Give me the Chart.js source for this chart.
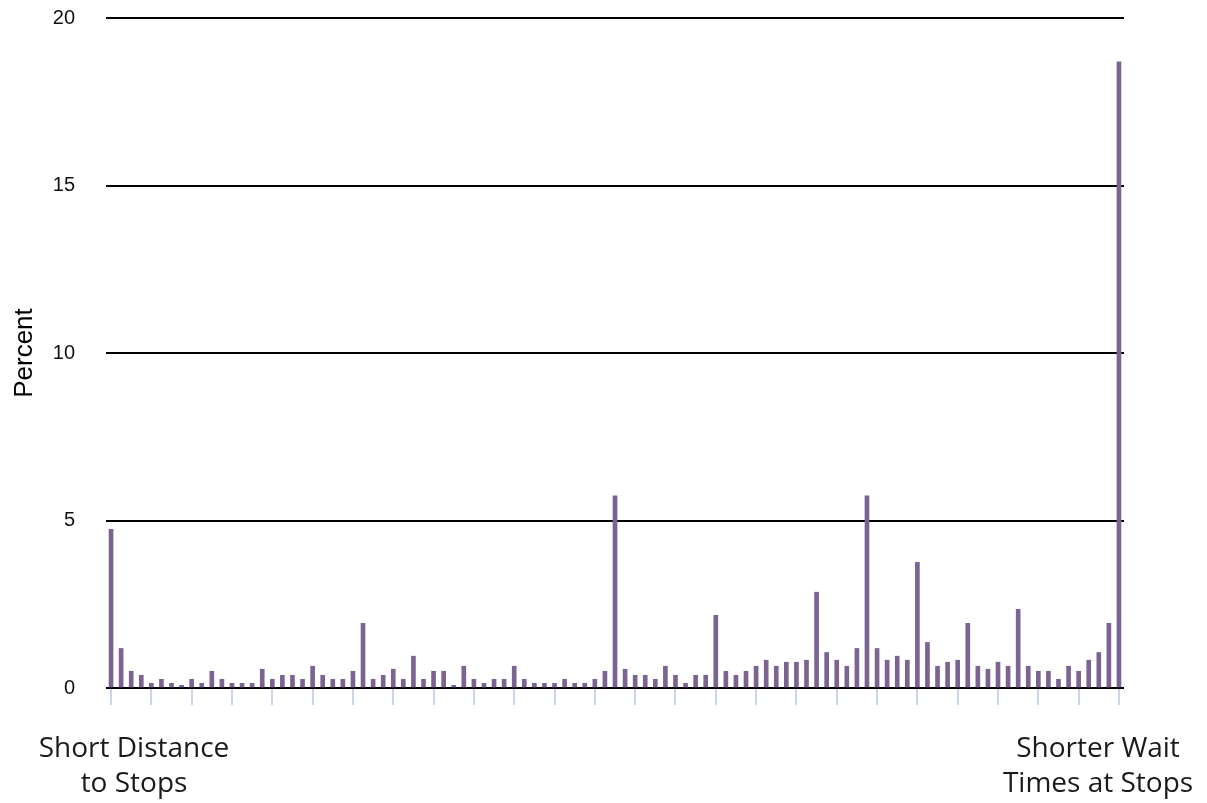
<!DOCTYPE html>
<html>
<head>
<meta charset="utf-8">
<script src="https://cdn.jsdelivr.net/npm/chart.js@4"></script>
<style>
  html, body { margin: 0; padding: 0; background: #fff; }
  canvas { display: block; }
</style>
</head>
<body>
<canvas id="chart" width="1207" height="803" role="img" aria-label="Bar chart of percent by position on a scale from short distance to stops to shorter wait times at stops"></canvas>
<script>
// position on the trade-off scale, 0 = short distance ... 100 = shorter wait
const categories = [
  0, 1, 2, 3, 4, 5, 6, 7, 8, 9, 10, 11, 12, 13, 14, 15, 16, 17, 18, 19,
  20, 21, 22, 23, 24, 25, 26, 27, 28, 29, 30, 31, 32, 33, 34, 35, 36, 37, 38, 39,
  40, 41, 42, 43, 44, 45, 46, 47, 48, 49, 50, 51, 52, 53, 54, 55, 56, 57, 58, 59,
  60, 61, 62, 63, 64, 65, 66, 67, 68, 69, 70, 71, 72, 73, 74, 75, 76, 77, 78, 79,
  80, 81, 82, 83, 84, 85, 86, 87, 88, 89, 90, 91, 92, 93, 94, 95, 96, 97, 98, 99, 100
]

const percent = [
  4.74, 1.18, 0.50, 0.38, 0.14, 0.26, 0.14, 0.08, 0.26, 0.14, 0.50, 0.26, 0.14, 0.14, 0.14, 0.56, 0.26, 0.38, 0.38, 0.26, 0.65, 0.38, 0.26, 0.26, 0.50,
  1.93, 0.26, 0.38, 0.56, 0.26, 0.95, 0.26, 0.50, 0.50, 0.08, 0.65, 0.26, 0.14, 0.26, 0.26, 0.65, 0.26, 0.14, 0.14, 0.14, 0.26, 0.14, 0.14, 0.26, 0.50,
  5.74, 0.56, 0.38, 0.38, 0.26, 0.65, 0.38, 0.14, 0.38, 0.38, 2.17, 0.50, 0.38, 0.50, 0.65, 0.83, 0.65, 0.77, 0.77, 0.83, 2.86, 1.06, 0.83, 0.65, 1.18,
  5.74, 1.18, 0.83, 0.95, 0.83, 3.75, 1.36, 0.65, 0.77, 0.83, 1.93, 0.65, 0.56, 0.77, 0.65, 2.35, 0.65, 0.50, 0.50, 0.26, 0.65, 0.50, 0.83, 1.06, 1.93, 18.69
]

const yTicks = [0, 5, 10, 15, 20]
const leftEndLabel = ['Short Distance', 'to Stops']
const rightEndLabel = ['Shorter Wait', 'Times at Stops']

// draws the two end-of-scale captions under the axis
const endLabels = {
  id: 'endLabels',
  afterDraw(chart) {
    const { ctx, chartArea } = chart
    ctx.save()
    ctx.font = '28px "Open Sans", "Noto Sans", sans-serif'
    ctx.fillStyle = '#1a1a1a'
    ctx.textAlign = 'center'
    ctx.textBaseline = 'alphabetic'
    const lx = chartArea.left + 28
    const rx = chartArea.right - 26
    leftEndLabel.forEach((t, i) => ctx.fillText(t, lx, chartArea.bottom + 69 + i * 35))
    rightEndLabel.forEach((t, i) => ctx.fillText(t, rx, chartArea.bottom + 69 + i * 35))
    ctx.restore()
  }
}

new Chart(document.getElementById('chart'), {
  type: 'bar',
  data: {
    labels: categories,
    datasets: [{
      label: 'Percent',
      data: percent,
      backgroundColor: '#7b6392',
      borderWidth: 0,
      barThickness: 4
    }]
  },
  options: {
    responsive: false,
    animation: false,
    layout: { padding: { top: 18, right: 83, left: 0, bottom: 0 } },
    plugins: {
      legend: { display: false },
      tooltip: { enabled: false }
    },
    scales: {
      x: {
        title: { display: false, text: 'Scale position' },
        border: { display: false },
        ticks: { display: false, autoSkip: false },
        grid: {
          offset: false,
          drawOnChartArea: false,
          drawTicks: true,
          tickLength: 17,
          lineWidth: 2,
          color: c => (c.index % 4 === 0 ? '#cbd5ea' : 'rgba(0,0,0,0)')
        },
        afterFit: s => { s.height = 115 }
      },
      y: {
        min: 0,
        max: 20,
        border: { display: false },
        afterBuildTicks: s => { s.ticks = yTicks.map(v => ({ value: v })) },
        ticks: {
          padding: 31,
          color: '#111',
          font: { family: '"Liberation Sans", Arial, sans-serif', size: 20 }
        },
        grid: { color: '#000', lineWidth: 2, drawTicks: false },
        title: {
          display: true,
          text: 'Percent',
          color: '#000',
          padding: { top: 9, bottom: 0 },
          font: { family: '"Liberation Sans", Arial, sans-serif', size: 26 }
        },
        afterFit: s => {
          s.width = 106
          s.paddingTop = 0
          s.paddingBottom = 0
        }
      }
    }
  },
  plugins: [endLabels]
})
</script>
</body>
</html>
